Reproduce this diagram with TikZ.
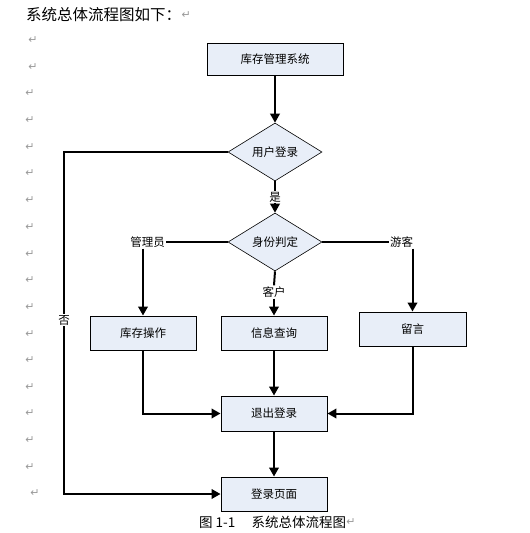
\documentclass[tikz,border=0pt]{standalone}
\usepackage{fontspec}
\setmainfont{Noto Sans CJK SC}
\newfontfamily\symfont{DejaVu Sans}
\usetikzlibrary{shapes.geometric,arrows.meta}
\definecolor{boxfill}{HTML}{E8EEF8}
\definecolor{markgray}{HTML}{999999}
\begin{document}
\begin{tikzpicture}[x=1pt,y=-1pt,
  every node/.style={font=\fontsize{11.5}{12}\selectfont, inner sep=0pt},
  procbox/.style={draw=black, line width=0.9pt, fill=boxfill, minimum width=106pt, minimum height=34pt},
  decbox/.style={draw=black, line width=0.6pt, fill=boxfill, diamond, minimum width=94pt, minimum height=58pt, aspect=1.62},
  conn/.style={line width=2pt},
  arr/.style={conn, -{Triangle[length=9pt,width=9.5pt]}},
  lbl/.style={fill=white, inner sep=1pt},
  pmark/.style={text=markgray, font=\symfont\fontsize{11}{11}\selectfont}
]
\path[use as bounding box] (0,0) rectangle (530,533);
% title
\node[anchor=west, font=\fontsize{15.5}{16}\selectfont] (title) at (26,15) {系统总体流程图如下：};
\node[pmark, anchor=west] (tmark) at (title.east) {↵};
% paragraph marks
\foreach \yy/\xx [count=\i] in {40/33,67/33,93/30,120/30,147/30,173/30,200/30,227/30,254/30,280/30,307/30,334/30,360/30,387/30,413/30,440/30,467/30,493/35}{
  \node[pmark] (m\i) at (\xx,\yy) {↵};
}
% nodes
\node[procbox, minimum width=136pt, minimum height=32pt] (b0) at (275,59) {库存管理系统};
\node[decbox] (d1) at (275,152) {用户登录};
\node[decbox] (d2) at (275,242) {身份判定};
\node[procbox] (b1) at (143,333) {库存操作};
\node[procbox] (b2) at (274,333) {信息查询};
\node[procbox, minimum width=107pt] (b3) at (412.5,329) {留言};
\node[procbox, minimum height=35pt] (b4) at (274,413.5) {退出登录};
\node[procbox] (b5) at (274,494) {登录页面};
% labels
\node[lbl] (lyes) at (275,197) {是};
\node[lbl] (lgl) at (147.5,242) {管理员};
\node[lbl] (lkh) at (274,292) {客户};
\node[lbl] (lyk) at (401.5,242) {游客};
\coordinate (cno) at (64,320);
% connectors
\draw[arr] (b0.south) -- (d1.north);
\draw[conn] (d1.south) -- (lyes.north);
\draw[arr] (lyes.south) -- (d2.north);
\draw[conn] (d2.west) -- (lgl.east);
\draw[arr] (lgl.south -| b1.north) -- (b1.north);
\draw[conn] (d2.south) -- (lkh.north);
\draw[arr] (lkh.south) -- (b2.north);
\draw[conn] (d2.east) -- (lyk.west);
\draw[arr] (lyk.south -| b3.north) -- (b3.north);
\draw[arr] (b1.south) |- (b4.west);
\draw[arr] (b2.south) -- (b4.north);
\draw[arr] (b3.south) |- (b4.east);
\draw[arr] (b4.south) -- (b5.north);
\draw[conn] (d1.west) -| (cno);
\draw[arr] (cno) |- (b5.west);
\node[lbl, fill=white, inner sep=1.5pt] (lno) at (cno) {否};
% caption
\node[anchor=west, font=\fontsize{13.5}{14}\selectfont] (cap) at (199,522) {图 1-1\hspace{1.2em}系统总体流程图};
\node[pmark, anchor=west] (cmark) at (cap.east) {↵};
\end{tikzpicture}
\end{document}
